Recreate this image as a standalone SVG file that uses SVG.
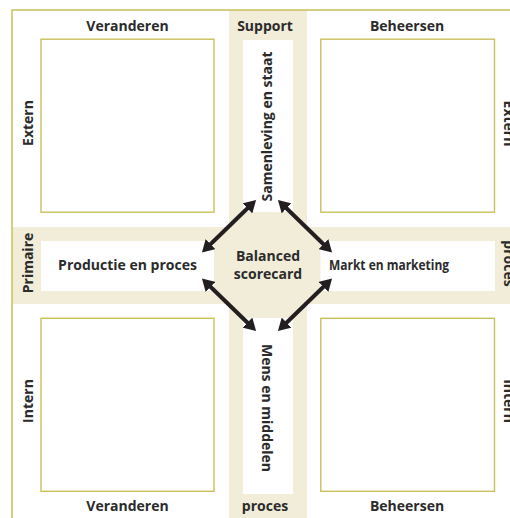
<svg xmlns="http://www.w3.org/2000/svg" width="510" height="518" viewBox="0 0 510 518">
  <style>
    .band { fill: #f2edd9; }
    .strip { fill: #ffffff; }
    .frame { fill: none; stroke: #c9c05a; stroke-width: 1.5; }
    .box { fill: #ffffff; stroke: #c9c05a; stroke-width: 1.4; }
    .lbl { font-family: "Open Sans", "Liberation Sans", sans-serif; font-weight: bold; font-size: 14px; fill: #2b2b2b; text-anchor: middle; }
    .arrow { stroke: #231f20; stroke-width: 4; fill: none; marker-start: url(#head); marker-end: url(#head); }
  </style>
  <defs>
    <marker id="head" viewBox="0 0 12 14" refX="3" refY="7" markerWidth="12" markerHeight="14" markerUnits="userSpaceOnUse" orient="auto-start-reverse">
      <path d="M0,0 L12,7 L0,14 z" fill="#231f20"/>
    </marker>
  </defs>

  <rect width="510" height="518" fill="#ffffff"/>

  <!-- cross of beige bands -->
  <g id="bands">
    <rect class="band" x="229" y="10" width="78" height="508"/>
    <rect class="band" x="12" y="227" width="498" height="77"/>
  </g>

  <!-- outer frame (top and left edges) -->
  <path class="frame" d="M12,518 V10 H510"/>

  <!-- quadrants -->
  <g id="quadrant-tl"><rect class="box" x="41" y="39.2" width="173" height="173"/></g>
  <g id="quadrant-tr"><rect class="box" x="320.8" y="39.2" width="173.7" height="173"/></g>
  <g id="quadrant-bl"><rect class="box" x="41" y="318.3" width="173" height="173"/></g>
  <g id="quadrant-br"><rect class="box" x="320.8" y="318.3" width="173.7" height="173"/></g>

  <!-- perspective strips -->
  <g id="samenleving">
    <rect class="strip" x="243" y="40" width="50" height="172"/>
    <text class="lbl" transform="translate(272,126.5) rotate(-90)">Samenleving en staat</text>
  </g>
  <g id="mens">
    <rect class="strip" x="243" y="318" width="50" height="176"/>
    <text class="lbl" transform="translate(262,408) rotate(90)">Mens en middelen</text>
  </g>
  <g id="productie">
    <rect class="strip" x="41" y="241" width="173" height="50"/>
    <text class="lbl" x="127.5" y="269.5">Productie en proces</text>
  </g>
  <g id="markt">
    <rect class="strip" x="320.5" y="241" width="174.5" height="50"/>
    <text class="lbl" x="389" y="269.5" textLength="120" lengthAdjust="spacingAndGlyphs">Markt en marketing</text>
  </g>

  <!-- centre -->
  <g id="balanced-scorecard">
    <text class="lbl" x="268" y="261">Balanced</text>
    <text class="lbl" x="268" y="279">scorecard</text>
  </g>

  <!-- double-headed connectors -->
  <g id="connectors">
    <line class="arrow" x1="208.4" y1="246.2" x2="249.6" y2="206.3"/>
    <line class="arrow" x1="284.4" y1="206.3" x2="325.6" y2="246.2"/>
    <line class="arrow" x1="325.6" y1="284.8" x2="284.4" y2="324.7"/>
    <line class="arrow" x1="208.4" y1="284.8" x2="249.6" y2="324.7"/>
  </g>

  <!-- axis labels -->
  <g id="axis-labels">
    <text class="lbl" x="127.5" y="31">Veranderen</text>
    <text class="lbl" x="265" y="31">Support</text>
    <text class="lbl" x="407" y="31">Beheersen</text>
    <text class="lbl" x="127.5" y="510.5">Veranderen</text>
    <text class="lbl" x="265" y="510.5">proces</text>
    <text class="lbl" x="407" y="510.5">Beheersen</text>
    <text class="lbl" transform="translate(32.5,123) rotate(-90)">Extern</text>
    <text class="lbl" transform="translate(33,263) rotate(-90)">Primaire</text>
    <text class="lbl" transform="translate(32.5,401) rotate(-90)">Intern</text>
    <text class="lbl" transform="translate(503.5,123.5) rotate(90)">Extern</text>
    <text class="lbl" transform="translate(503.5,263.5) rotate(90)">proces</text>
    <text class="lbl" transform="translate(503.5,401) rotate(90)">Intern</text>
  </g>
</svg>
